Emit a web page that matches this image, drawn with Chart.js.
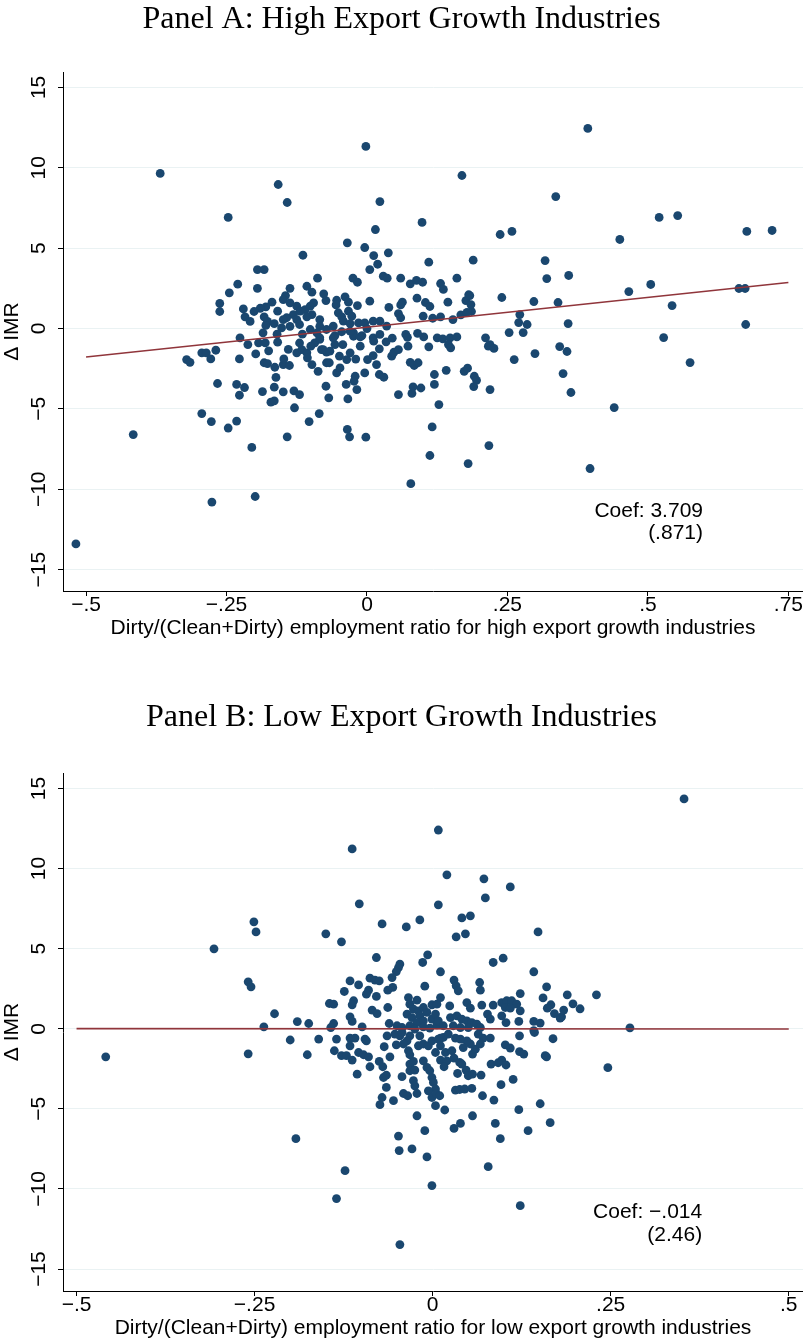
<!DOCTYPE html>
<html><head><meta charset="utf-8">
<script src="https://cdn.jsdelivr.net/npm/chart.js@4.4.1/dist/chart.umd.min.js"></script>
<style>
html,body{margin:0;padding:0;background:#fff;}
#wrap{position:relative;width:803px;height:1344px;background:#fff;}
.panel{position:absolute;left:0;width:803px;height:672px;}
</style></head><body>
<div id="wrap">
<div class="panel" style="top:0"><canvas id="cA" width="803" height="672"></canvas></div>
<div class="panel" style="top:672px"><canvas id="cB" width="803" height="672"></canvas></div>
</div>
<script>
// ---------- data ----------
const titleA = 'Panel A: High Export Growth Industries';
const titleB = 'Panel B: Low Export Growth Industries';
const xTitleA = 'Dirty/(Clean+Dirty) employment ratio for high export growth industries';
const xTitleB = 'Dirty/(Clean+Dirty) employment ratio for low export growth industries';
const yTitle = 'Δ IMR';

const xTickValsA = [-0.5, -0.25, 0, 0.25, 0.5, 0.75];
const xTickLabelsA = ['−.5', '−.25', '0', '.25', '.5', '.75'];
const xTickValsB = [-0.5, -0.25, 0, 0.25, 0.5];
const xTickLabelsB = ['−.5', '−.25', '0', '.25', '.5'];
const yTickVals = [-15, -10, -5, 0, 5, 10, 15];
const yTickLabels = ['−15', '−10', '−5', '0', '5', '10', '15'];

const coefTextA = ['Coef: 3.709', '(.871)'];
const coefTextB = ['Coef: −.014', '(2.46)'];

const fitA_x = [-0.5, 0.75];
const fitA_y = [-1.77, 2.86];
const fitB_x = [-0.5, 0.5];
const fitB_y = [0.01, -0.01];

const panelA_points = [
[0.393,12.45],[-0.002,11.33],[-0.368,9.65],[0.169,9.52],[-0.158,8.96],[0.336,8.21],[-0.142,7.84],[0.023,7.90],[-0.247,6.91],[0.098,6.60],[0.520,6.91],[0.553,7.03],[0.676,6.04],[0.721,6.10],[0.237,5.85],[0.258,6.04],[0.450,5.54],[0.015,6.16],
[-0.035,5.33],[-0.004,5.04],[0.012,4.54],[0.038,4.71],[0.019,4.00],[0.005,3.67],[0.110,4.13],[0.189,4.25],[-0.114,4.56],
[-0.025,3.13],[-0.017,2.88],[0.029,3.26],[0.036,3.13],[0.060,3.13],[0.077,2.78],[0.088,3.00],[0.099,2.88],[0.131,2.80],[0.136,2.43],[0.160,3.13],
[-0.073,1.74],[-0.054,1.76],[-0.055,1.47],[-0.039,1.97],[-0.033,1.64],[-0.017,1.43],[0.005,1.70],[0.063,1.64],[0.060,1.47],[0.089,1.89],[0.104,1.62],[0.112,1.37],[0.144,1.64],[0.176,1.74],[0.181,2.10],[0.039,1.31],[0.056,0.93],[0.060,0.67],[0.100,0.77],[0.117,0.64],[0.131,0.73],[0.153,0.56],[0.167,0.85],[0.186,1.06],
[-0.051,0.98],[-0.045,0.73],[-0.033,1.08],[-0.027,0.77],[-0.042,0.46],[-0.030,0.31],[-0.015,0.35],[-0.004,0.35],[0.011,0.46],[0.023,0.46],[-0.084,0.56],[-0.072,-0.06],[-0.057,-0.44],[-0.024,-0.27],[-0.009,-0.44],[0.011,-0.58],[0.023,-0.37],
[-0.195,3.67],[-0.183,3.67],[-0.230,2.76],[-0.245,2.22],[-0.195,2.50],[-0.088,3.13],[-0.262,1.56],[-0.262,1.06],[-0.220,1.22],[-0.137,2.50],[-0.107,2.63],[-0.098,2.26],[-0.077,2.16],[-0.145,2.05],[-0.169,1.64],[-0.180,1.35],[-0.190,1.26],[-0.201,1.06],[-0.217,0.73],[-0.208,0.44],[-0.183,0.73],[-0.177,0.44],[-0.180,0.19],[-0.185,-0.27],[-0.159,1.08],[-0.149,1.80],[-0.137,1.60],[-0.125,1.39],[-0.119,1.08],[-0.131,0.87],[-0.143,0.67],[-0.125,0.56],[-0.110,1.18],[-0.101,1.39],[-0.095,1.60],[-0.098,0.87],[-0.107,0.73],[-0.149,0.56],[-0.152,0.04],[-0.137,0.14],[-0.084,0.14],[-0.101,-0.06],[-0.089,-0.27],[-0.226,-0.58],
[-0.212,-1.00],[-0.193,-0.89],[-0.181,-0.89],[-0.159,-0.85],[-0.175,-1.39],[-0.198,-1.58],[-0.321,-1.93],[-0.315,-2.10],[-0.294,-1.51],[-0.286,-1.51],[-0.278,-1.89],[-0.269,-1.35],[-0.227,-1.89],[-0.183,-2.13],[-0.177,-2.18],[-0.164,-2.41],[-0.149,-2.24],[-0.138,-2.30],[-0.162,-3.04],[-0.148,-1.89],[-0.125,-1.51],[-0.116,-1.31],[-0.107,-1.51],[-0.106,-1.82],[-0.098,-2.24],[-0.087,-2.66],[-0.093,-0.89],[-0.084,-0.68],[-0.081,-1.31],[-0.072,-1.47],[-0.072,-2.13],
[-0.266,-3.42],[-0.232,-3.48],[-0.218,-3.67],[-0.227,-4.15],[-0.186,-3.92],[-0.165,-3.65],[-0.149,-3.94],[-0.130,-3.88],[-0.120,-4.11],[-0.073,-3.59],[-0.068,-4.31],[-0.171,-4.58],[-0.165,-4.50],[-0.129,-4.93],[-0.294,-5.29],[-0.277,-5.79],[-0.247,-6.19],[-0.232,-5.76],[-0.142,-6.74],[-0.103,-5.79],[-0.085,-5.29],
[-0.084,-0.58],[-0.078,-1.31],[-0.066,-1.41],[-0.057,-1.00],[-0.060,-0.58],[-0.043,-1.00],[-0.049,-1.72],[-0.036,-1.93],[-0.030,-1.51],[-0.067,-2.13],[-0.054,-2.76],[-0.048,-2.45],[-0.037,-3.48],[-0.034,-4.38],[-0.018,-3.80],[-0.021,-2.97],[-0.023,-3.28],[-0.004,-2.76],[0.001,-1.93],[0.011,-1.68],[0.017,-2.24],[0.022,-2.86],[0.030,-3.03],[0.022,-1.26],[0.012,-0.79],[0.034,-0.83],[-0.012,-1.10],[-0.024,-0.48],[-0.012,-0.52],[-0.030,-0.17],
[0.069,-0.37],[0.072,-0.55],[0.101,-0.52],[0.110,-1.14],[0.125,-0.58],[0.135,-0.64],[0.148,-0.58],[0.145,-1.00],[0.149,-1.20],[0.160,-0.52],[0.073,-1.10],[0.044,-1.72],[0.048,-1.47],[0.056,-1.31],[0.077,-2.10],[0.084,-2.30],[0.091,-2.13],[0.056,-4.11],[0.080,-4.04],[0.082,-3.63],[0.096,-3.70],[0.120,-2.86],[0.120,-3.48],[0.141,-2.60],[0.173,-2.66],[0.179,-2.47],[0.191,-2.97],[0.195,-3.22],[0.128,-4.73],[0.116,-6.12],[-0.035,-6.28],[-0.031,-6.74],[-0.002,-6.76],[0.211,-0.58],[0.216,-1.10],
[0.662,2.49],[0.673,2.49],[0.674,0.25],[0.575,-2.12],[0.528,-0.56],[0.543,1.43],[0.505,2.74],[0.466,2.30],[0.440,-4.92],[0.397,-8.71],[0.317,4.23],[0.320,3.11],[0.359,3.30],[0.340,1.62],[0.358,0.31],[0.343,-1.12],[0.356,-1.43],[0.349,-2.80],[0.363,-3.98],[0.297,1.68],[0.299,-1.56],[0.270,0.37],[0.272,0.87],[0.285,0.25],[0.278,-0.25],[0.253,-0.25],[0.240,1.93],[0.262,-1.93],[0.219,-1.00],[0.219,-3.80],[0.226,-1.24],[0.217,-7.28],[0.180,-8.40],[0.190,-3.61],[0.183,2.05],[0.185,1.49],[0.178,1.00],[0.112,-7.90],[0.078,-9.65],
[-0.518,-13.40],[-0.416,-6.60],[-0.276,-10.80],[-0.199,-10.45],[-0.205,-7.40],
[-0.120,0.25],[-0.060,0.15],[-0.045,-0.20],[0.000,0.00],[0.035,0.15],[-0.115,-0.35],[-0.165,0.30],[-0.160,-0.35],[-0.140,-1.30],[-0.120,-0.90],[-0.100,-1.10],[-0.020,-1.90],[0.045,-0.60],[0.090,-0.30]
];

const panelB_points = [
[0.353,14.35],[0.008,12.41],[-0.113,11.23],[0.020,9.61],[0.072,9.36],[0.109,8.86],[0.074,8.17],[-0.103,7.80],[0.008,7.74],[-0.251,6.68],[-0.071,6.55],[-0.248,6.05],[0.041,6.92],[0.053,7.05],[-0.018,6.80],[-0.037,6.36],[-0.150,5.93],[-0.128,5.43],[-0.307,4.99],[0.148,6.05],[0.046,5.93],[0.033,5.74],[-0.259,2.93],[-0.255,2.62],[-0.237,0.12],[-0.259,-1.56],[-0.459,-1.75],[0.277,0.06],[0.246,-2.43],[0.197,1.56],[0.207,1.25],[0.230,2.12],[0.181,0.75],[0.169,-0.62],[0.166,1.50],[0.155,1.93],[0.158,-1.68],[0.151,-4.68],[0.165,-5.86],[0.134,-6.36],[0.123,-11.04],[0.078,-8.61],[0.095,-6.86],[-0.192,-6.86],[-0.123,-8.86],[-0.135,-10.60],[-0.001,-9.79],[-0.046,-13.47],[-0.048,-6.70],[-0.029,-7.50],[-0.047,-7.60],[-0.008,-8.00],[-0.222,0.94],[-0.190,0.45],[-0.200,-0.70],
[-0.079,4.45],[-0.007,4.62],[-0.014,4.14],[-0.046,4.04],[-0.048,3.82],[-0.051,3.57],[-0.057,3.20],[-0.116,2.99],[-0.104,2.74],[-0.088,3.16],[-0.081,3.04],[-0.075,2.99],[-0.011,2.66],[-0.124,2.33],[-0.090,2.41],[-0.093,2.16],[-0.079,2.02],[-0.056,2.58],[-0.063,2.41],[-0.111,1.75],[-0.113,1.50],[-0.145,1.58],[-0.139,1.54],[-0.085,1.17],[-0.078,0.95],[-0.063,1.33],[-0.116,0.75],[-0.113,0.46],[-0.174,0.33],[-0.139,0.33],[-0.143,0.08],[-0.099,0.12],[-0.061,0.33],[-0.034,1.95],[-0.022,1.79],[-0.032,1.54],[-0.027,1.23],[-0.020,1.12],[-0.013,1.33],[-0.008,1.02],[-0.018,0.81],[-0.001,1.50],[0.006,1.54],[-0.036,0.92],[-0.029,0.70],[-0.022,0.39],[-0.013,0.50],[-0.001,0.61],[0.004,0.92],[-0.050,0.19],[-0.043,0.08],[-0.032,0.19],[-0.025,-0.02],[-0.013,0.12],[-0.004,0.04],[0.006,0.25],[-0.160,-0.64],[-0.135,-0.64],[-0.116,-0.58],[-0.109,-0.58],[-0.095,-0.64],[-0.064,-0.44],[-0.046,-0.44],[-0.032,-0.44],[-0.018,-0.44],
[0.099,4.41],[0.085,4.14],[0.011,3.56],[0.142,3.56],[0.030,3.04],[0.033,2.68],[0.036,2.37],[0.066,2.89],[0.067,2.41],[0.160,2.62],[0.189,2.12],[0.123,2.20],[0.011,1.95],[0.024,1.43],[0.048,1.64],[0.053,1.29],[0.069,1.48],[0.085,1.48],[0.097,1.64],[0.104,1.75],[0.111,1.75],[0.118,1.54],[0.123,1.12],[0.102,1.33],[0.109,1.29],[0.161,1.29],[0.171,0.95],[0.184,1.17],[0.179,0.67],[0.142,0.46],[0.151,0.36],[0.121,0.46],[0.097,0.81],[0.103,0.39],[0.077,0.92],[0.081,0.61],[0.025,0.70],[0.034,0.81],[0.041,0.61],[0.048,0.50],[0.055,0.39],[0.062,0.29],[0.008,0.50],[0.015,0.19],[0.029,0.19],[0.039,0.08],[0.050,0.08],[0.067,0.08],[0.122,-0.44],[0.142,-0.12],[0.071,-0.58],[0.081,-0.58],[0.032,-0.58],[0.011,-0.58],
[-0.116,-1.06],[-0.093,-0.75],[-0.176,-1.62],[-0.138,-1.37],[-0.128,-1.68],[-0.121,-1.68],[-0.113,-1.95],[-0.104,-1.48],[-0.097,-1.62],[-0.090,-1.75],[-0.088,-2.37],[-0.106,-2.83],[-0.075,-2.04],[-0.070,-2.37],[-0.068,-1.12],[-0.060,-1.75],[-0.051,-1.00],[-0.069,-3.04],[-0.065,-2.90],[-0.065,-3.66],[-0.071,-4.29],[-0.074,-4.74],[-0.055,-4.49],[-0.043,-2.99],[-0.041,-4.04],[-0.035,-4.18],[-0.022,-4.04],[-0.027,-3.24],[-0.025,-3.56],[-0.032,-2.20],[-0.027,-2.04],[-0.032,-2.62],[-0.025,-2.58],[-0.036,-0.75],[-0.041,-0.95],[-0.034,-1.37],[-0.032,-1.62],[-0.022,-5.43],[-0.011,-6.36],[-0.013,-2.00],[-0.008,-2.41],[-0.004,-2.62],[-0.001,-3.04],[0.001,-3.35],[0.004,-3.76],[-0.006,-3.87],[-0.001,-4.29],[0.004,-4.80],[0.004,-1.48],[-0.020,-1.06],[-0.013,-0.95],[-0.006,-1.06],[-0.001,-0.75],[-0.053,-0.33],[-0.043,-0.23],
[0.008,-0.64],[0.015,-0.54],[0.022,-0.33],[0.011,-1.06],[0.018,-1.48],[0.027,-1.37],[0.011,-1.95],[0.020,-2.00],[0.030,-1.83],[0.038,-2.10],[0.041,-2.20],[0.016,-2.37],[0.035,-2.79],[0.047,-2.58],[0.050,-2.93],[0.056,-2.83],[0.068,-2.89],[0.032,-3.83],[0.038,-3.79],[0.045,-3.76],[0.055,-3.72],[0.005,-4.04],[0.010,-4.18],[0.017,-5.07],[0.070,-4.18],[0.086,-4.45],[0.096,-3.49],[0.113,-3.16],[0.082,-2.20],[0.092,-2.12],[0.097,-1.95],[0.103,-2.26],[0.102,-1.00],[0.109,-1.20],[0.122,-1.42],[0.128,-1.58],[0.160,-1.75],[0.143,-0.23],[0.056,-1.58],[0.060,-1.27],[0.067,-0.95],[0.064,-0.33],[0.053,-0.95],[0.048,-0.75],[0.039,-0.64],[0.043,-1.17],[0.121,-5.05],[0.056,-5.43],[0.039,-5.91],[0.030,-6.22],[0.088,-5.91]
];

// ---------- styles ----------
const SANS = "'Liberation Sans', Arial, Helvetica, sans-serif";
const SERIF = "'Liberation Serif', 'Times New Roman', serif";
const DOT = '#1a476f';
const FIT = '#90353b';
const GRID = '#eaf2f3';

const coefPlugin = {
  id: 'coef',
  afterDatasetsDraw(chart, args, opts) {
    const {ctx, scales: {x, y}} = chart;
    ctx.save();
    ctx.fillStyle = '#000';
    ctx.font = '21px ' + SANS;
    ctx.textAlign = 'right';
    ctx.textBaseline = 'middle';
    opts.lines.forEach((t, i) => {
      ctx.fillText(t, x.getPixelForValue(opts.x), y.getPixelForValue(opts.y[i]));
    });
    ctx.restore();
  }
};

function makePanel(id, p) {
  const tickFont = {family: SANS, size: 21, lineHeight: 1};
  return new Chart(document.getElementById(id), {
    type: 'scatter',
    data: {
      datasets: [
        {
          data: p.fitX.map((x, i) => ({x, y: p.fitY[i]})),
          showLine: true, borderColor: FIT, borderWidth: 1.6,
          pointRadius: 0, order: 0
        },
        {
          data: p.points.map(([x, y]) => ({x, y})),
          backgroundColor: DOT, borderColor: DOT, borderWidth: 0,
          pointRadius: 4.4, pointHoverRadius: 4.4, order: 1
        }
      ]
    },
    options: {
      responsive: false, animation: false, devicePixelRatio: 1,
      layout: {autoPadding: false, padding: {left: 0, right: 0, top: 0, bottom: 0}},
      plugins: {
        legend: {display: false},
        tooltip: {enabled: false},
        title: {
          display: true, text: p.title, color: '#000',
          font: {family: SERIF, size: 32, weight: 'normal', lineHeight: 1.2},
          padding: {top: p.titlePadTop, bottom: p.titlePadBottom}
        },
        coef: {lines: p.coef, x: p.coefX, y: p.coefY}
      },
      scales: {
        x: {
          type: 'linear', position: 'bottom', min: p.xMin, max: p.xMax,
          afterBuildTicks: s => { s.ticks = p.xTicks.map(v => ({value: v})); },
          afterFit: s => { s.height = p.xAxisHeight; s.paddingLeft = 0; s.paddingRight = 0; },
          border: {display: true, color: '#000', width: 1},
          grid: {display: true, drawOnChartArea: false, color: 'rgba(0,0,0,0)', tickColor: '#000', tickLength: 5, tickWidth: 1},
          ticks: {autoSkip: false, minRotation: 0, maxRotation: 0, padding: -1, color: '#000', font: tickFont,
                  callback: v => p.xLabels[p.xTicks.indexOf(v)]},
          title: {display: true, text: p.xTitle, color: '#000', font: {family: SANS, size: 21, lineHeight: 1},
                  padding: {top: 0, bottom: p.xTitlePadBottom}}
        },
        y: {
          type: 'linear', position: 'left', min: p.yMin, max: p.yMax,
          afterBuildTicks: s => { s.ticks = yTickVals.map(v => ({value: v})); },
          afterFit: s => { s.width = 63; },
          border: {display: true, color: '#000', width: 1},
          grid: {display: true, color: GRID, lineWidth: 1, tickColor: '#000', tickLength: 5, tickWidth: 1},
          ticks: {minRotation: 90, maxRotation: 90, crossAlign: 'center', padding: 1, color: '#000', font: tickFont,
                  callback: v => yTickLabels[yTickVals.indexOf(v)]},
          title: {display: true, text: yTitle, color: '#000', font: {family: SANS, size: 21, lineHeight: 1.2},
                  padding: {top: 0, bottom: 0}}
        }
      }
    },
    plugins: [coefPlugin]
  });
}

makePanel('cA', {
  title: titleA, titlePadTop: 0, titlePadBottom: 33.6,
  points: panelA_points, fitX: fitA_x, fitY: fitA_y,
  xMin: -0.541, xMax: 0.776, yMin: -16.33, yMax: 15.96,
  xTicks: xTickValsA, xLabels: xTickLabelsA, xTitle: xTitleA,
  xAxisHeight: 81, xTitlePadBottom: 33.5,
  coef: coefTextA, coefX: 0.598, coefY: [-11.36, -12.73]
});
makePanel('cB', {
  title: titleB, titlePadTop: 26.8, titlePadBottom: 35.8,
  points: panelB_points, fitX: fitB_x, fitY: fitB_y,
  xMin: -0.519, xMax: 0.520, yMin: -16.37, yMax: 15.97,
  xTicks: xTickValsB, xLabels: xTickLabelsB, xTitle: xTitleB,
  xAxisHeight: 53, xTitlePadBottom: 5.5,
  coef: coefTextB, coefX: 0.3785, coefY: [-11.44, -12.88]
});
</script>
</body></html>
